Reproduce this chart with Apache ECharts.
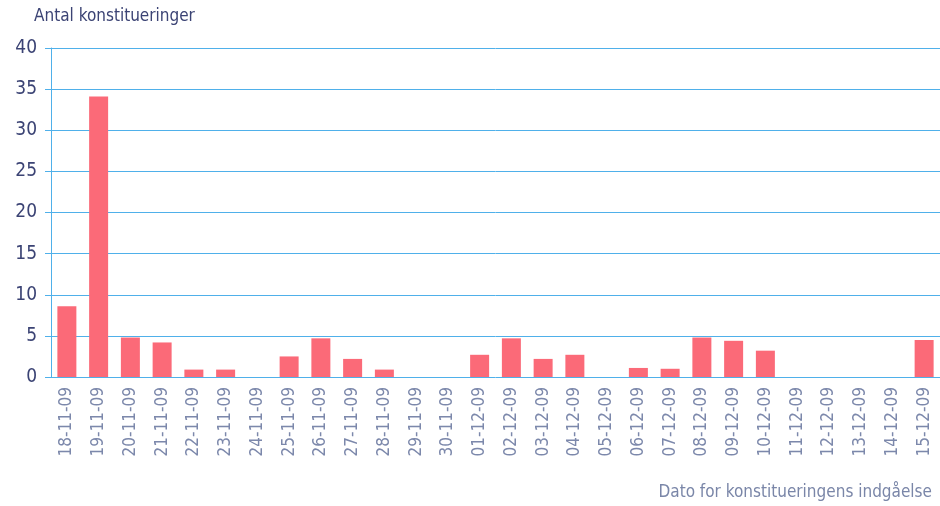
<!DOCTYPE html>
<html><head><meta charset="utf-8">
<script src="https://cdn.jsdelivr.net/npm/echarts@6/dist/echarts.min.js"></script>
<style>html,body{margin:0;padding:0;background:#fff}#c{width:940px;height:506px}</style>
</head><body><div id="c"></div>
<script>
const categories = ['18-11-09','19-11-09','20-11-09','21-11-09','22-11-09','23-11-09','24-11-09','25-11-09','26-11-09','27-11-09','28-11-09','29-11-09','30-11-09','01-12-09','02-12-09','03-12-09','04-12-09','05-12-09','06-12-09','07-12-09','08-12-09','09-12-09','10-12-09','11-12-09','12-12-09','13-12-09','14-12-09','15-12-09'];
const counts = [8.6,34.1,4.8,4.2,0.9,0.9,0,2.5,4.7,2.2,0.9,0,0,2.7,4.7,2.2,2.7,0,1.1,1.0,4.8,4.4,3.2,0,0,0,0,4.5];
const yTicks = {min:0, max:40, interval:5};
const yTitle = 'Antal konstitueringer';
const xTitle = 'Dato for konstitueringens indgåelse';

const chart = echarts.init(document.getElementById('c'));
const blue = '#4fb0ea';
const font = '"DejaVu Sans Condensed","Open Sans",sans-serif';
chart.setOption({
  animation:false,
  grid:{left:51,right:0,top:48,bottom:129,containLabel:false},
  graphic:[
    {type:'text',left:34,top:8,style:{text:yTitle,fill:'#3b4374',font:'17px '+font}},
    {type:'text',right:8,top:484,style:{text:xTitle,fill:'#7a86a8',font:'17px '+font}}
  ],
  xAxis:{type:'category',data:categories,
    axisLine:{show:false},axisTick:{show:false},
    axisLabel:{rotate:90,interval:0,margin:10,color:'#7c88ab',fontSize:17,fontFamily:font}},
  yAxis:{type:'value',min:yTicks.min,max:yTicks.max,interval:yTicks.interval,
    axisLine:{show:true,lineStyle:{color:blue,width:1}},
    axisTick:{show:true,length:6,lineStyle:{color:blue}},
    splitLine:{lineStyle:{color:blue,width:1}},
    axisLabel:{color:'#3b4374',fontSize:19,margin:14,fontFamily:font}},
  series:[{type:'bar',data:counts,barWidth:19,itemStyle:{color:'#fb6a78'}}]
});
</script></body></html>
